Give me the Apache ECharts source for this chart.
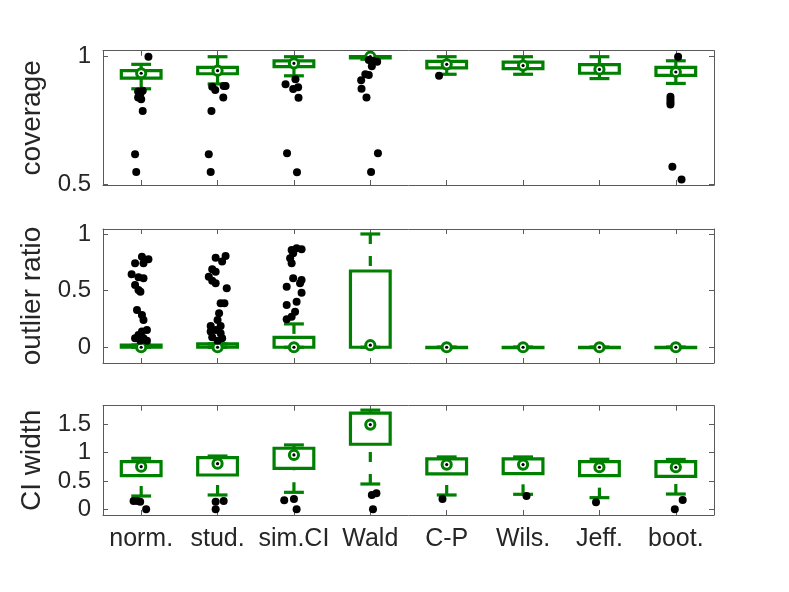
<!DOCTYPE html>
<html><head><meta charset="utf-8">
<script src="https://cdn.jsdelivr.net/npm/echarts@6/dist/echarts.min.js"></script>
<style>html,body{margin:0;padding:0;background:#fff}#c{width:789px;height:592px}</style>
</head><body><div id="c"></div>
<script>
const categories = ['norm.', 'stud.', 'sim.CI', 'Wald', 'C-P', 'Wils.', 'Jeff.', 'boot.'];
const panelNames = ['coverage', 'outlier ratio', 'CI width'];
const coverageTicks = [0.5, 1];
const outlierTicks = [0, 0.5, 1];
const widthTicks = [0, 0.5, 1, 1.5];

// box stats per category: [lower whisker, Q1, median, Q3, upper whisker]
const coverageBoxes = [
  [0.874, 0.916, 0.935, 0.945, 0.970],
  [0.893, 0.933, 0.945, 0.958, 1.0],
  [0.925, 0.961, 0.974, 0.984, 1.0],
  [0.99, 0.995, 1.0, 1.0, 1.0],
  [0.931, 0.956, 0.970, 0.982, 1.0],
  [0.931, 0.953, 0.965, 0.979, 1.0],
  [0.914, 0.935, 0.950, 0.969, 1.0],
  [0.895, 0.927, 0.940, 0.958, 0.984]
];
const outlierBoxes = [
  [0, 0, 0, 0.02, 0.02],
  [0, 0, 0, 0.03, 0.03],
  [0, 0, 0, 0.088, 0.206],
  [0, 0, 0.018, 0.673, 1.0],
  [0, 0, 0, 0, 0],
  [0, 0, 0, 0, 0],
  [0, 0, 0, 0, 0],
  [0, 0, 0, 0, 0]
];
const widthBoxes = [
  [0.235, 0.594, 0.753, 0.841, 0.90],
  [0.253, 0.606, 0.806, 0.912, 0.94],
  [0.30, 0.724, 0.959, 1.077, 1.136],
  [0.447, 1.148, 1.495, 1.696, 1.75],
  [0.253, 0.624, 0.789, 0.889, 0.924],
  [0.265, 0.63, 0.789, 0.889, 0.924],
  [0.206, 0.594, 0.742, 0.841, 0.883],
  [0.27, 0.583, 0.742, 0.841, 0.88]
];

// outliers: [category index, horizontal jitter, value]
const coverageOutliers = [
  [0,0.095,1.0],[0,-0.04,0.863],[0,0.02,0.866],[0,-0.01,0.855],[0,-0.04,0.840],[0,0.0,0.833],[0,0.02,0.787],[0,-0.08,0.617],[0,-0.065,0.547],
  [1,-0.07,0.882],[1,-0.03,0.869],[1,0.08,0.885],[1,0.105,0.885],[1,0.075,0.840],[1,-0.08,0.787],[1,-0.115,0.617],[1,-0.09,0.547],
  [2,-0.11,0.892],[2,0.02,0.911],[2,-0.01,0.873],[2,0.055,0.880],[2,0.06,0.839],[2,-0.09,0.621],[2,0.04,0.546],
  [3,-0.02,0.987],[3,0.035,0.984],[3,0.09,0.98],[3,0.02,0.963],[3,-0.065,0.931],[3,-0.02,0.928],[3,-0.12,0.908],[3,-0.115,0.874],[3,-0.05,0.840],[3,0.10,0.621],[3,0.01,0.547],
  [4,-0.1,0.925],
  [7,0.03,1.0],[7,-0.07,0.843],[7,-0.07,0.832],[7,-0.07,0.821],[7,-0.07,0.812],[7,-0.045,0.568],[7,0.075,0.518]
];
const outlierOutliers = [
  [0,0.01,0.80],[0,0.095,0.777],[0,-0.08,0.741],[0,0.03,0.741],[0,-0.125,0.644],[0,-0.035,0.618],[0,0.03,0.609],[0,-0.08,0.55],[0,-0.035,0.506],[0,-0.01,0.491],
  [0,-0.055,0.329],[0,0.01,0.285],[0,0.03,0.241],[0,0.075,0.153],[0,0.01,0.138],[0,-0.035,0.109],[0,-0.08,0.079],[0,0.03,0.079],[0,-0.01,0.058],[0,0.075,0.058],
  [1,-0.025,0.791],[1,0.105,0.806],[1,0.06,0.756],[1,-0.07,0.688],[1,-0.025,0.667],[1,-0.115,0.623],[1,-0.07,0.588],[1,-0.025,0.565],[1,0.12,0.521],[1,0.04,0.388],
  [1,0.09,0.388],[1,0.02,0.30],[1,0,0.241],[1,-0.09,0.188],[1,0.04,0.188],[1,-0.025,0.153],[1,-0.09,0.138],[1,0.04,0.124],[1,-0.07,0.088],[1,0.06,0.079],[1,0,0.058],
  [2,-0.03,0.859],[2,0.035,0.874],[2,0.1,0.865],[2,-0.01,0.83],[2,-0.05,0.786],[2,-0.03,0.741],[2,-0.01,0.609],[2,0.1,0.594],[2,0.08,0.565],[2,-0.095,0.535],
  [2,0.1,0.482],[2,0.035,0.402],[2,-0.095,0.373],[2,0.015,0.314],[2,-0.03,0.27],[2,-0.095,0.247]
];
const widthOutliers = [
  [0,-0.1,0.147],[0,-0.05,0.147],[0,-0.013,0.135],[0,0.065,0.0],
  [1,-0.025,0.135],[1,0.08,0.147],[1,-0.025,0.0],
  [2,-0.127,0.159],[2,0,0.182],[2,0.035,0.0],
  [3,0.02,0.253],[3,0.08,0.283],[3,0.035,0.0],
  [4,-0.055,0.182],
  [5,0.045,0.235],
  [6,-0.045,0.124],
  [7,0.09,0.165],[7,-0.013,0.0]
];

const panels = [
  {name: panelNames[0], boxes: coverageBoxes, outliers: coverageOutliers, ticks: coverageTicks, min: 0.496, max: 1.0236, top: 50.7, height: 134.3},
  {name: panelNames[1], boxes: outlierBoxes, outliers: outlierOutliers, ticks: outlierTicks, min: -0.139, max: 1.044, top: 229, height: 134},
  {name: panelNames[2], boxes: widthBoxes, outliers: widthOutliers, ticks: widthTicks, min: -0.1, max: 1.828, top: 405.7, height: 109.3}
];

const GREEN = '#008000';
const AXIS = '#5a5a5a';
const TEXT = '#262626';
const FONT = 'Liberation Sans, Arial, Helvetica, sans-serif';

function renderBox(params, api) {
  const i = api.value(0);
  const lo = api.value(1), q1 = api.value(2), med = api.value(3), q3 = api.value(4), hi = api.value(5);
  const band = api.size([1, 0])[0];
  const bw = band * 0.52;
  const cw = bw * 0.5;
  const cx = api.coord([i, med])[0];
  const Y = v => api.coord([i, v])[1];
  const lw = 3.2;
  const ch = [];
  if (hi > q3) ch.push({type: 'line', shape: {x1: cx, y1: Y(hi), x2: cx, y2: Y(q3)}, style: {stroke: GREEN, lineWidth: lw, lineDash: [10, 12]}});
  if (lo < q1) ch.push({type: 'line', shape: {x1: cx, y1: Y(lo), x2: cx, y2: Y(q1)}, style: {stroke: GREEN, lineWidth: lw, lineDash: [10, 12]}});
  ch.push({type: 'line', shape: {x1: cx - cw / 2, y1: Y(hi), x2: cx + cw / 2, y2: Y(hi)}, style: {stroke: GREEN, lineWidth: lw}});
  ch.push({type: 'line', shape: {x1: cx - cw / 2, y1: Y(lo), x2: cx + cw / 2, y2: Y(lo)}, style: {stroke: GREEN, lineWidth: lw}});
  ch.push({type: 'rect', shape: {x: cx - bw / 2, y: Y(q3), width: bw, height: Math.max(Y(q1) - Y(q3), 0.5)}, style: {stroke: GREEN, fill: null, lineWidth: lw, lineJoin: 'miter'}});
  ch.push({type: 'circle', shape: {cx: cx, cy: Y(med), r: 4.6}, style: {stroke: GREEN, fill: '#fff', lineWidth: 3}});
  ch.push({type: 'circle', shape: {cx: cx, cy: Y(med), r: 1.6}, style: {fill: '#000', stroke: null}});
  return {type: 'group', children: ch};
}

const grid = [], xAxis = [], yAxis = [], series = [];
panels.forEach((p, g) => {
  grid.push({left: 103, right: 75, top: p.top, height: p.height, containLabel: false});
  const isLast = g === panels.length - 1;
  xAxis.push({
    type: 'category', gridIndex: g, data: categories, position: 'bottom',
    axisLine: {show: true, onZero: false, lineStyle: {color: AXIS, width: 1}},
    axisTick: {show: true, inside: true, length: 5, alignWithLabel: true, lineStyle: {color: AXIS}},
    axisLabel: {show: isLast, color: TEXT, fontSize: 25, fontFamily: FONT, margin: 12, interval: 0},
    splitLine: {show: false}
  });
  xAxis.push({
    type: 'category', gridIndex: g, data: categories, position: 'top',
    axisLine: {show: true, onZero: false, lineStyle: {color: AXIS, width: 1}},
    axisTick: {show: true, inside: true, length: 5, alignWithLabel: true, lineStyle: {color: AXIS}},
    axisLabel: {show: false}, splitLine: {show: false}
  });
  xAxis.push({type: 'value', gridIndex: g, min: -0.5, max: 7.5, show: false, splitLine: {show: false}});
  yAxis.push({
    type: 'value', gridIndex: g, min: p.min, max: p.max, position: 'left',
    name: p.name, nameLocation: 'middle', nameGap: 52,
    nameTextStyle: {color: TEXT, fontSize: 28, fontFamily: FONT},
    axisLine: {show: true, onZero: false, lineStyle: {color: AXIS, width: 1}},
    axisTick: {show: true, inside: true, length: 5, customValues: p.ticks, lineStyle: {color: AXIS}},
    axisLabel: {show: true, customValues: p.ticks, color: TEXT, fontSize: 24, fontFamily: FONT, margin: 12, formatter: v => String(v)},
    splitLine: {show: false}
  });
  yAxis.push({
    type: 'value', gridIndex: g, min: p.min, max: p.max, position: 'right',
    axisLine: {show: true, onZero: false, lineStyle: {color: AXIS, width: 1}},
    axisTick: {show: true, inside: true, length: 5, customValues: p.ticks, lineStyle: {color: AXIS}},
    axisLabel: {show: false}, splitLine: {show: false}
  });
  series.push({
    type: 'custom', xAxisIndex: g * 3, yAxisIndex: g * 2, z: 2,
    renderItem: renderBox,
    encode: {x: 0, y: [1, 2, 3, 4, 5]},
    data: p.boxes.map((b, i) => [i].concat(b)),
    silent: true
  });
  series.push({
    type: 'scatter', xAxisIndex: g * 3 + 2, yAxisIndex: g * 2, z: 3,
    symbol: 'circle', symbolSize: 8,
    itemStyle: {color: '#000', opacity: 1},
    data: p.outliers.map(o => [o[0] + o[1], o[2]]),
    silent: true
  });
});

const chart = echarts.init(document.getElementById('c'), null, {renderer: 'canvas'});
chart.setOption({
  animation: false,
  backgroundColor: '#fff',
  grid, xAxis, yAxis, series
});
</script>
</body></html>
